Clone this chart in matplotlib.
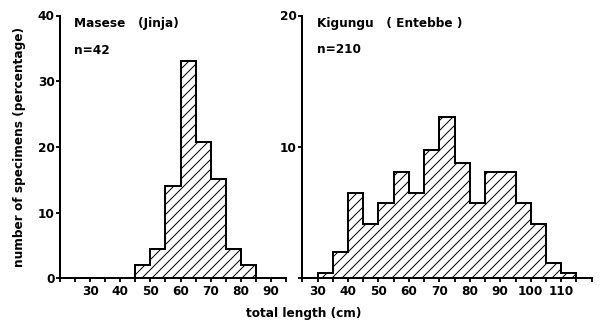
import numpy as np
import matplotlib
matplotlib.use('Agg')
import matplotlib.pyplot as plt

# length classes (cm) and percentages
masese_edges = [45, 50, 55, 60, 65, 70, 75, 80, 85]
masese_pct = [2.1, 4.4, 14.0, 33.0, 20.8, 15.1, 4.4, 2.1]

kigungu_edges = [30, 35, 40, 45, 50, 55, 60, 65, 70, 75, 80, 85, 90, 95, 100, 105, 110, 115]
kigungu_pct = [0.4, 2.0, 6.5, 4.1, 5.7, 8.1, 6.5, 9.8, 12.3, 8.8, 5.7, 8.1, 8.1, 5.7, 4.1, 1.2, 0.4]

left_xticks = list(range(20, 96, 5))
left_xlabels = ['30', '40', '50', '60', '70', '80', '90']
right_xticks = list(range(25, 121, 5))
right_xlabels = ['30', '40', '50', '60', '70', '80', '90', '100', '110']
left_yticks = [0, 10, 20, 30, 40]
right_yticks = [0, 10, 20]
right_ylabels = ['', '10', '20']

DPI = 60
plt.rcParams['font.family'] = ['DejaVu Sans']
plt.rcParams['font.weight'] = 'bold'
plt.rcParams['hatch.linewidth'] = 1.2
fs = 14.6

top, bot = 15.5, 278.3
fig = plt.figure(figsize=(600 / DPI, 329 / DPI), dpi=DPI)
ax1 = fig.add_axes([60 / 600, 1 - bot / 329, 226 / 600, (bot - top) / 329])
ax2 = fig.add_axes([302.3 / 600, 1 - bot / 329, 289.4 / 600, (bot - top) / 329])


def style(ax, xticks, xlabels, yticks, ylabels, xlim, ylim):
    ax.set_xlim(*xlim)
    ax.set_ylim(*ylim)
    for s in ['top', 'right']:
        ax.spines[s].set_visible(False)
    for s in ['left', 'bottom']:
        ax.spines[s].set_linewidth(2.4)
    ax.set_xticks(xticks)
    labs = [str(t) if str(t) in xlabels else '' for t in xticks]
    ax.set_xticklabels(labs)
    ax.set_yticks(yticks)
    ax.set_yticklabels(ylabels)
    ax.tick_params(axis='both', direction='out', length=4.5, width=2.2,
                   labelsize=fs, pad=2)
    ax.tick_params(axis='x', pad=4)


ax1.stairs(masese_pct, masese_edges, fill=True, facecolor='white',
           edgecolor='black', hatch='//', linewidth=2.4, baseline=0)
ax1.stairs(masese_pct, masese_edges, fill=False, color='black', linewidth=2.4, baseline=0)
style(ax1, left_xticks, left_xlabels, left_yticks, [str(t) for t in left_yticks],
      (20, 95), (0, 40))

ax2.stairs(kigungu_pct, kigungu_edges, fill=True, facecolor='white',
           edgecolor='black', hatch='//', linewidth=2.4, baseline=0)
ax2.stairs(kigungu_pct, kigungu_edges, fill=False, color='black', linewidth=2.4, baseline=0)
style(ax2, right_xticks, right_xlabels, right_yticks, right_ylabels,
      (25, 120), (0, 20))

ax1.text(0.06, 0.971, 'Masese   (Jinja)', transform=ax1.transAxes,
         fontsize=fs, va='center', ha='left')
ax1.text(0.06, 0.865, 'n=42', transform=ax1.transAxes,
         fontsize=fs, va='center', ha='left')
ax2.text(0.05, 0.968, 'Kigungu   ( Entebbe )', transform=ax2.transAxes,
         fontsize=fs, va='center', ha='left')
ax2.text(0.05, 0.869, 'n=210', transform=ax2.transAxes,
         fontsize=fs, va='center', ha='left')

fig.text(20 / 600, 1 - 147 / 329, 'number of specimens (percentage)',
         rotation=90, fontsize=fs, ha='center', va='center')
fig.text(304 / 600, 1 - 313 / 329, 'total length (cm)',
         fontsize=fs, ha='center', va='center')

fig.savefig('out.png', dpi=DPI)
